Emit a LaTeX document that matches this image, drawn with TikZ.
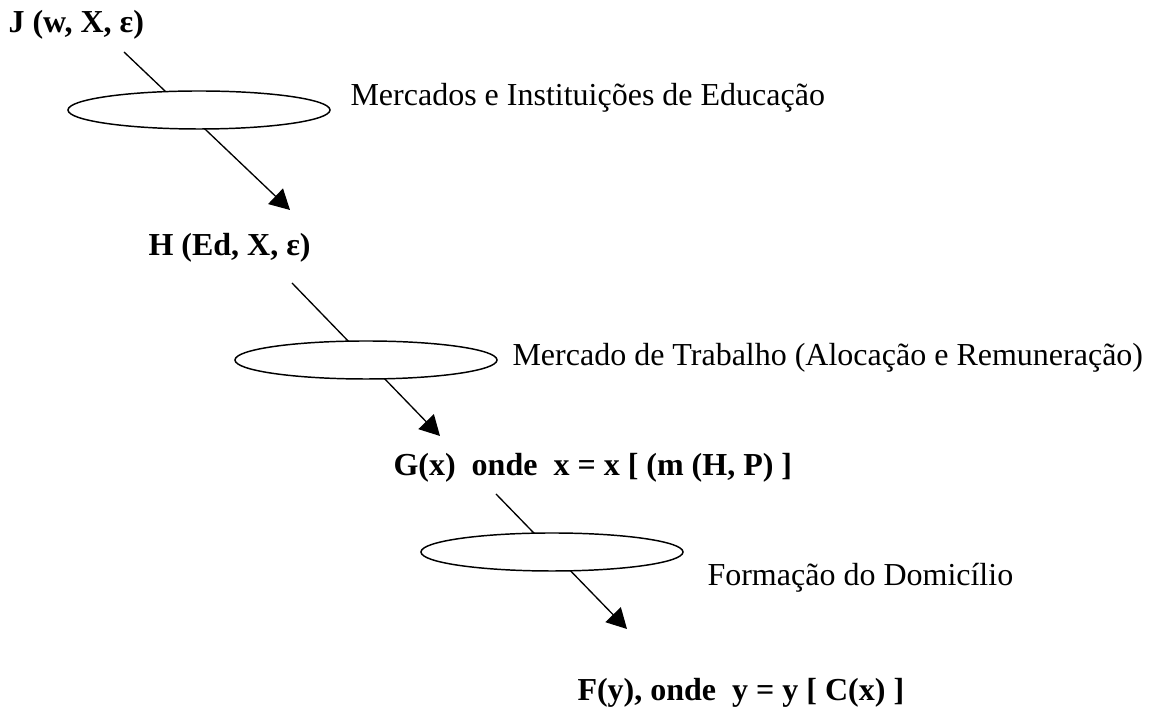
\documentclass[tikz,border=0pt]{standalone}
\usepackage{fontspec}
\setmainfont{Liberation Serif}
\usetikzlibrary{shapes.geometric,arrows.meta}
\begin{document}
\begin{tikzpicture}[
    x=0.375pt, y=-0.375pt,
    formula/.style={anchor=base west, inner sep=0pt, font=\fontsize{12}{14.4}\selectfont\bfseries},
    market/.style={anchor=base west, inner sep=0pt, font=\fontsize{12}{14.4}\selectfont},
    stage/.style={ellipse, draw, fill=white, inner sep=0pt, line width=0.55pt, minimum width=98.25pt, minimum height=14.25pt},
    arrow/.style={line width=0.5pt, -{Triangle[length=7.5pt,width=8pt]}}
]
    \useasboundingbox (0,0) rectangle (1149,707);

    % Formulas
    \node [formula] (J) at (8,33) {J (w, X, ε)};
    \node [formula] (H) at (148,256) {H (Ed, X, ε)};
    \node [formula] (G) at (393,476) {G(x)~ onde~ x = x [ (m (H, P) ]};
    \node [formula] (F) at (577,701) {F(y), onde~ y = y [ C(x) ]};

    % Ends of the arrows
    \coordinate (J out) at (124,52);
    \coordinate (H in) at (290,210);
    \coordinate (H out) at (292,283);
    \coordinate (G in) at (440,436);
    \coordinate (G out) at (496,494);
    \coordinate (F in) at (627,629);

    % Arrows
    \draw [arrow] (J out) -- (H in);
    \draw [arrow] (H out) -- (G in);
    \draw [arrow] (G out) -- (F in);

    % Markets
    \node [stage] (educ) at (199,110) {};
    \node [stage] (trab) at (366,360) {};
    \node [stage] (domic) at (552,552) {};
    \node [market] (educ label) at (350,106) {Mercados e Instituições de Educação};
    \node [market] (trab label) at (512,366) {Mercado de Trabalho (Alocação e Remuneração)};
    \node [market] (domic label) at (707,586) {Formação do Domicílio};
\end{tikzpicture}
\end{document}
